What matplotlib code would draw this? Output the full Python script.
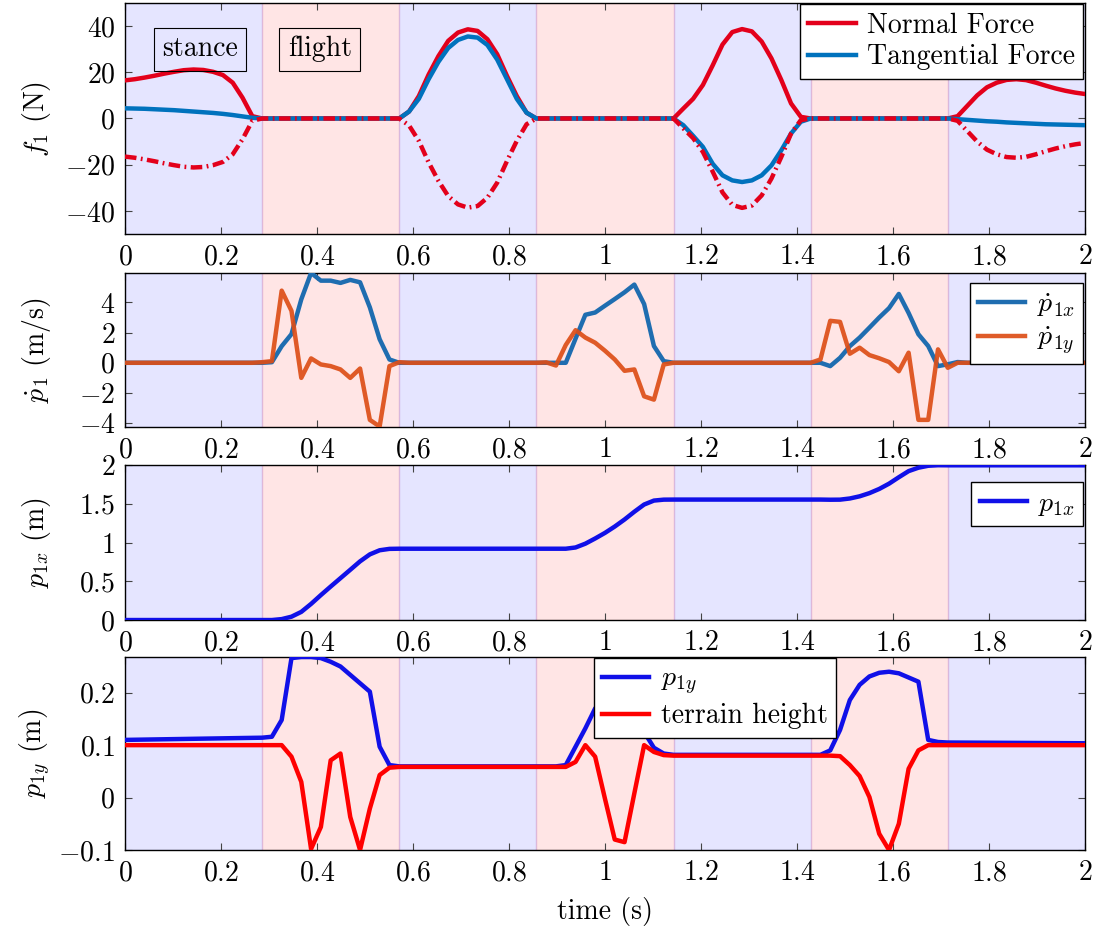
import numpy as np
import matplotlib
matplotlib.use("Agg")
import matplotlib.pyplot as plt
from matplotlib.ticker import FuncFormatter

plt.rcParams['font.family'] = 'serif'
plt.rcParams['font.serif'] = ['cmr10']
plt.rcParams['mathtext.fontset'] = 'cm'
plt.rcParams['axes.formatter.use_mathtext'] = True
plt.rcParams['axes.unicode_minus'] = False

# time grid: 7 phases of 14 samples
t = np.linspace(0, 2, 99)

phase_edges = [0, 2/7, 4/7, 6/7, 8/7, 10/7, 12/7, 2]
phases = ['stance', 'flight', 'stance', 'flight', 'stance', 'flight', 'stance']

normal_force = [
    16.5, 17.0, 17.7, 18.5, 19.4, 20.2, 20.9, 21.2, 21.0, 20.2, 18.8, 15.5, 9.0, 1.0,
    0, 0, 0, 0, 0, 0, 0, 0, 0, 0, 0, 0, 0, 0,
    0, 3.0, 9.7, 19.0, 27.0, 33.6, 37.2, 38.6, 37.9, 34.3, 27.8, 18.4, 9.7, 2.5,
    0, 0, 0, 0, 0, 0, 0, 0, 0, 0, 0, 0, 0, 0,
    0, 4.3, 8.5, 14.5, 23.0, 32.0, 37.4, 38.7, 37.7, 33.3, 26.0, 16.7, 6.5, 0.7,
    0, 0, 0, 0, 0, 0, 0, 0, 0, 0, 0, 0, 0, 0,
    0, 1.0, 5.5, 10.0, 13.5, 15.5, 16.7, 17.0, 16.6, 15.5, 14.2, 13.0, 12.0, 11.2, 10.6]

tangential_force = [
    4.4, 4.3, 4.2, 4.0, 3.8, 3.6, 3.3, 3.0, 2.7, 2.4, 2.0, 1.5, 0.9, 0.3,
    0, 0, 0, 0, 0, 0, 0, 0, 0, 0, 0, 0, 0, 0,
    0, 3.0, 8.5, 17.0, 24.5, 30.5, 34.0, 35.5, 35.0, 31.8, 25.5, 17.0, 8.5, 2.5,
    0, 0, 0, 0, 0, 0, 0, 0, 0, 0, 0, 0, 0, 0,
    0, -2.9, -7.5, -12.3, -19.6, -24.6, -26.8, -27.5, -26.8, -24.6, -20.3, -13.8, -6.5, -1.4,
    0, 0, 0, 0, 0, 0, 0, 0, 0, 0, 0, 0, 0, 0,
    0, -0.3, -0.6, -0.9, -1.2, -1.4, -1.7, -1.9, -2.1, -2.3, -2.5, -2.6, -2.7, -2.8, -2.9]

vel_x = [
    0, 0, 0, 0, 0, 0, 0, 0, 0, 0, 0, 0, 0, 0,
    0, 0.04, 1.1, 1.9, 4.2, 5.95, 5.44, 5.44, 5.29, 5.49, 5.33, 3.67, 1.56, 0.22,
    0, 0, 0, 0, 0, 0, 0, 0, 0, 0, 0, 0, 0, 0,
    0, 0, 0, 0, 1.6, 3.18, 3.33, 3.78, 4.22, 4.67, 5.18, 3.89, 1.11, 0.11,
    0, 0, 0, 0, 0, 0, 0, 0, 0, 0, 0, 0, 0, 0,
    0, 0, -0.22, 0.33, 1.1, 1.67, 2.33, 3.0, 3.62, 4.56, 3.3, 1.89, 1.11, -0.22,
    -0.1, 0.05, 0, 0, 0, 0, 0, 0, 0, 0, 0, 0, 0, 0, 0]

vel_y = [
    0, 0, 0, 0, 0, 0, 0, 0, 0, 0, 0, 0, 0, 0,
    0.04, 0.11, 4.78, 3.44, -1.0, 0.29, -0.11, -0.22, -0.44, -1.0, -0.38, -3.78, -4.22, -0.22,
    0.04, 0, 0, 0, 0, 0, 0, 0, 0, 0, 0, 0, 0, 0,
    0, 0.03, -0.18, 1.18, 2.16, 1.67, 1.33, 0.8, 0.22, -0.53, -0.44, -2.22, -2.44, -0.11,
    0, 0, 0, 0, 0, 0, 0, 0, 0, 0, 0, 0, 0, 0,
    0, 0.22, 2.78, 2.71, 0.6, 1.0, 0.51, 0.3, 0.05, -0.56, 0.67, -3.78, -3.78, 0.89,
    -0.33, 0, 0, 0, 0, 0, 0, 0, 0, 0, 0, 0, 0, 0, 0]

pos_x = [
    0, 0, 0, 0, 0, 0, 0, 0, 0, 0, 0, 0, 0, 0,
    0, 0, 0.012, 0.043, 0.105, 0.208, 0.322, 0.432, 0.54, 0.648, 0.757, 0.847, 0.9, 0.918,
    0.92, 0.92, 0.92, 0.92, 0.92, 0.92, 0.92, 0.92, 0.92, 0.92, 0.92, 0.92, 0.92, 0.92,
    0.92, 0.92, 0.92, 0.92, 0.936, 0.985, 1.052, 1.124, 1.206, 1.297, 1.397, 1.49, 1.541, 1.553,
    1.554, 1.554, 1.554, 1.554, 1.554, 1.554, 1.554, 1.554, 1.554, 1.554, 1.554, 1.554, 1.554, 1.554,
    1.554, 1.554, 1.552, 1.553, 1.568, 1.596, 1.637, 1.691, 1.759, 1.842, 1.921, 1.965, 1.99, 1.997,
    1.996, 1.996, 1.996, 1.996, 1.996, 1.996, 1.996, 1.996, 1.996, 1.996, 1.996, 1.996, 1.996, 1.996, 1.996]

pos_y = [
    0.110, 0.1103, 0.1106, 0.1109, 0.1112, 0.1115, 0.1118, 0.1121, 0.1124, 0.1127, 0.113, 0.1133, 0.1136, 0.1139,
    0.1142, 0.116, 0.148, 0.266, 0.268, 0.268, 0.266, 0.259, 0.25, 0.234, 0.218, 0.202, 0.097, 0.062,
    0.0595, 0.0595, 0.0595, 0.0595, 0.0595, 0.0595, 0.0595, 0.0595, 0.0595, 0.0595, 0.0595, 0.0595, 0.0595, 0.0595,
    0.0595, 0.0595, 0.0595, 0.062, 0.097, 0.132, 0.17, 0.19, 0.205, 0.21, 0.195, 0.125, 0.095, 0.084,
    0.0815, 0.0815, 0.0815, 0.0815, 0.0815, 0.0815, 0.0815, 0.0815, 0.0815, 0.0815, 0.0815, 0.0815, 0.0815, 0.0815,
    0.0815, 0.0815, 0.09, 0.129, 0.186, 0.215, 0.231, 0.238, 0.24, 0.237, 0.229, 0.221, 0.11, 0.106,
    0.105, 0.1049, 0.1048, 0.1047, 0.1046, 0.1045, 0.1044, 0.1043, 0.1042, 0.1041, 0.104, 0.1039, 0.1038, 0.1037, 0.1036]

terrain = [
    0.1, 0.1, 0.1, 0.1, 0.1, 0.1, 0.1, 0.1, 0.1, 0.1, 0.1, 0.1, 0.1, 0.1,
    0.1, 0.1, 0.1, 0.078, 0.03, -0.098, -0.056, 0.071, 0.084, -0.037, -0.1, -0.021, 0.043, 0.057,
    0.0585, 0.0585, 0.0585, 0.0585, 0.0585, 0.0585, 0.0585, 0.0585, 0.0585, 0.0585, 0.0585, 0.0585, 0.0585, 0.0585,
    0.0585, 0.0585, 0.0585, 0.0585, 0.068, 0.1, 0.078, -0.002, -0.08, -0.085, 0.008, 0.1, 0.087, 0.081,
    0.08, 0.08, 0.08, 0.08, 0.08, 0.08, 0.08, 0.08, 0.08, 0.08, 0.08, 0.08, 0.08, 0.08,
    0.08, 0.08, 0.08, 0.079, 0.062, 0.041, 0.001, -0.069, -0.1, -0.05, 0.055, 0.09, 0.1, 0.1,
    0.1, 0.1, 0.1, 0.1, 0.1, 0.1, 0.1, 0.1, 0.1, 0.1, 0.1, 0.1, 0.1, 0.1, 0.1]

FS = 20
LW = 3.2

fig = plt.figure(figsize=(10.99, 9.30), dpi=100)
W = 0.8735
ax1 = fig.add_axes([0.1137, 0.7484, W, 0.2484])
ax2 = fig.add_axes([0.1137, 0.5409, W, 0.1656])
ax3 = fig.add_axes([0.1137, 0.3333, W, 0.1667])
ax4 = fig.add_axes([0.1137, 0.0860, W, 0.2075])

fmt = FuncFormatter(lambda v, p: '$%g$' % v)

for ax in (ax1, ax2, ax3, ax4):
    for k, name in enumerate(phases):
        c = 'blue' if name == 'stance' else 'red'
        ax.axvspan(phase_edges[k], phase_edges[k + 1], color=c, alpha=0.1, lw=1, zorder=0)
    ax.set_xlim(0, 2)
    ax.set_xticks(np.arange(0, 2.01, 0.2))
    ax.xaxis.set_major_formatter(fmt)
    ax.yaxis.set_major_formatter(fmt)
    ax.tick_params(direction='in', top=True, right=True, length=5, width=0.8,
                   color='#444444', labelsize=FS, pad=7)
    for s in ax.spines.values():
        s.set_linewidth(1.0)

leg_kw = dict(fontsize=FS, fancybox=False, edgecolor='black', framealpha=1,
              borderpad=0.3, handlelength=1.7, handletextpad=0.4, labelspacing=0.2,
              borderaxespad=0)

# contact forces
ax1.plot(t, normal_force, color='#E3001B', lw=LW, label='Normal Force', zorder=3)
ax1.plot(t, tangential_force, color='#0072BD', lw=LW, label='Tangential Force', zorder=4)
ax1.plot(t, -np.array(normal_force), color='#E3001B', lw=LW,
         ls=(0, (2.6, 1.0, 0.4, 1.0)), zorder=5)
ax1.set_ylim(-50, 50)
ax1.set_yticks([-40, -20, 0, 20, 40])
ax1.set_ylabel('$f_1$ (N)', fontsize=FS)
box = dict(boxstyle='square,pad=0.3', fc='none', ec='black', lw=0.8)
ax1.text(0.156, 30, 'stance', fontsize=FS, ha='center', va='center', bbox=box)
ax1.text(0.406, 30, 'flight', fontsize=FS, ha='center', va='center', bbox=box)
ax1.legend(loc='upper right', bbox_to_anchor=(0.998, 0.996), **leg_kw)

# foot velocity
ax2.plot(t, vel_x, color='#1F6DB0', lw=LW, label=r'$\dot{p}_{1x}$', zorder=3)
ax2.plot(t, vel_y, color='#DD4E17', lw=LW, alpha=0.92, label=r'$\dot{p}_{1y}$', zorder=4)
ax2.set_ylim(-4.25, 5.95)
ax2.set_yticks([-4, -2, 0, 2, 4])
ax2.set_ylabel(r'$\dot{p}_1$ (m/s)', fontsize=FS)
ax2.legend(loc='upper right', bbox_to_anchor=(0.998, 0.935), **leg_kw)

# horizontal position
ax3.plot(t, pos_x, color='#1010E8', lw=LW, label='$p_{1x}$', zorder=3)
ax3.set_ylim(0, 2)
ax3.set_yticks([0, 0.5, 1, 1.5, 2])
ax3.set_ylabel('$p_{1x}$ (m)', fontsize=FS)
ax3.legend(loc='upper right', bbox_to_anchor=(0.998, 0.89), **leg_kw)

# vertical position and terrain
ax4.plot(t, pos_y, color='#1010E8', lw=LW, label='$p_{1y}$', zorder=3)
ax4.plot(t, terrain, color='#FF0000', lw=LW, label='terrain height', zorder=4)
ax4.set_ylim(-0.1, 0.268)
ax4.set_yticks([-0.1, 0, 0.1, 0.2])
ax4.set_ylabel('$p_{1y}$ (m)', fontsize=FS)
ax4.set_xlabel('time (s)', fontsize=FS, labelpad=8)
ax4.legend(loc='upper left', bbox_to_anchor=(0.4885, 0.995), **leg_kw)

for ax in (ax1, ax2, ax3, ax4):
    ax.yaxis.set_label_coords(-0.075, 0.5)

fig.savefig('out.png', dpi=100)
